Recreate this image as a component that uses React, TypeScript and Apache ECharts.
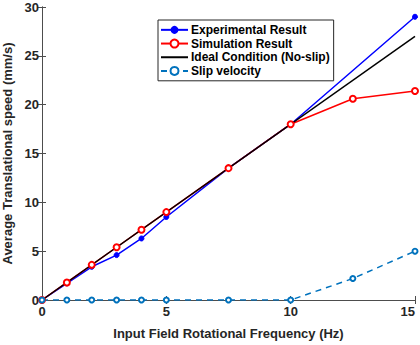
import React, { useEffect, useRef } from "react";
import * as echarts from "echarts";

const expX = [0, 1, 2, 3, 4, 5, 7.5, 10, 15];
const expY = [0, 1.7, 3.4, 4.6, 6.3, 8.5, 13.5, 18, 29];
const simX = [0, 1, 2, 3, 4, 5, 7.5, 10, 12.5, 15];
const simY = [0, 1.8, 3.6, 5.4, 7.2, 9, 13.5, 18, 20.6, 21.4];
const idealX = [0, 15];
const idealY = [0, 27];
const slipX = [0, 1, 2, 3, 4, 5, 7.5, 10, 12.5, 15];
const slipY = [0, 0, 0, 0, 0, 0, 0, 0, 2.2, 5];
const xTicks = [0, 5, 10, 15];
const yTicks = [0, 5, 10, 15, 20, 25, 30];

const zip = (xs: number[], ys: number[]) => xs.map((x, i) => [x, ys[i]]);

const FONT = "Liberation Sans";
const AX = "#4d4d4d";

export default function App() {
  const ref = useRef<HTMLDivElement>(null);
  useEffect(() => {
    if (!ref.current) return;
    const chart = echarts.init(ref.current, undefined, { renderer: "svg" });
    const axisCommon = {
      type: "value" as const,
      axisLine: { show: true, lineStyle: { color: AX, width: 1 } },
      axisTick: { show: true, inside: true, length: 4, lineStyle: { color: AX } },
      splitLine: { show: false },
    };
    chart.setOption({
      animation: false,
      grid: { left: 42, right: 5, top: 7, bottom: 45, containLabel: false, outerBoundsMode: "none" },
      xAxis: [
        {
          ...axisCommon,
          min: xTicks[0],
          max: xTicks[xTicks.length - 1],
          interval: 5,
          position: "bottom",
          name: "Input Field Rotational Frequency (Hz)",
          nameLocation: "middle",
          nameGap: 27,
          nameTextStyle: { fontFamily: FONT, fontWeight: "bold", fontSize: 13, color: "#262626" },
          axisLabel: { fontFamily: FONT, fontWeight: "bold", fontSize: 13, color: "#262626", margin: 5, alignMaxLabel: "right" },
        },
        {
          ...axisCommon,
          min: xTicks[0],
          max: xTicks[xTicks.length - 1],
          interval: 5,
          position: "top",
          axisLabel: { show: false },
        },
      ],
      yAxis: [
        {
          ...axisCommon,
          min: yTicks[0],
          max: yTicks[yTicks.length - 1],
          interval: 5,
          position: "left",
          name: "Average Translational speed (mm/s)",
          nameLocation: "middle",
          nameGap: 21,
          nameTextStyle: { fontFamily: FONT, fontWeight: "bold", fontSize: 13, color: "#262626" },
          axisLabel: { fontFamily: FONT, fontWeight: "bold", fontSize: 13, color: "#262626", margin: 3 },
        },
        {
          ...axisCommon,
          min: yTicks[0],
          max: yTicks[yTicks.length - 1],
          interval: 5,
          position: "right",
          axisLabel: { show: false },
        },
      ],
      legend: {
        orient: "vertical",
        left: 158,
        top: 20,
        width: 160,
        padding: [3, 4, 3, 2],
        itemGap: 0,
        itemWidth: 27,
        itemHeight: 10,
        borderColor: "#262626",
        borderWidth: 1,
        backgroundColor: "#fff",
        textStyle: { fontFamily: FONT, fontWeight: "bold", fontSize: 12, lineHeight: 13.7, color: "#000", padding: [0, 0, 0, -2] },
        data: [
          { name: "Experimental Result" },
          { name: "Simulation Result" },
          { name: "Ideal Condition (No-slip)", itemStyle: { opacity: 0 } },
          { name: "Slip velocity" },
        ],
      },
      series: [
        {
          name: "Experimental Result",
          type: "line",
          data: zip(expX, expY),
          symbol: "circle",
          symbolSize: 5,
          lineStyle: { color: "#0000ff", width: 1.5 },
          itemStyle: { color: "#0000ff", borderColor: "#0000ff" },
        },
        {
          name: "Simulation Result",
          type: "line",
          data: zip(simX, simY),
          symbol: "emptyCircle",
          symbolSize: 6,
          lineStyle: { color: "#ff0000", width: 1.5 },
          itemStyle: { color: "#ff0000", borderColor: "#ff0000", borderWidth: 1.5 },
        },
        {
          name: "Ideal Condition (No-slip)",
          type: "line",
          data: zip(idealX, idealY),
          symbol: "none",
          lineStyle: { color: "#000000", width: 1.5 },
          itemStyle: { color: "#000000" },
        },
        {
          name: "Slip velocity",
          type: "line",
          data: zip(slipX, slipY),
          symbol: "emptyCircle",
          symbolSize: 5,
          lineStyle: { color: "#0072bd", width: 1.5, type: [6, 5] },
          itemStyle: { color: "#0072bd", borderColor: "#0072bd", borderWidth: 1.5 },
        },
      ],
    });
    return () => chart.dispose();
  }, []);
  return <div ref={ref} style={{ width: 420, height: 345, position: "absolute", left: 0, top: 0, background: "#fff" }} />;
}
